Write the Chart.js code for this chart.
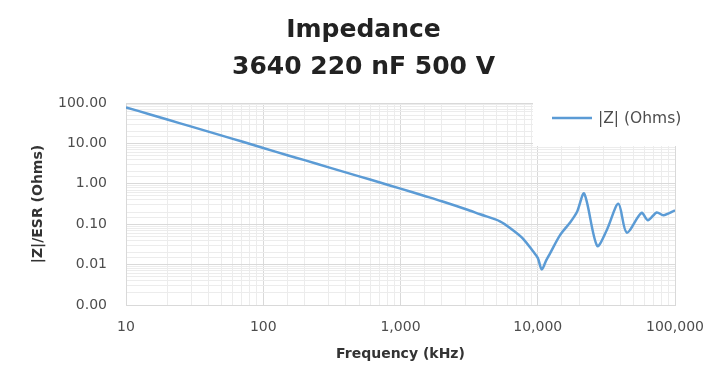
<!DOCTYPE html>
<html>
<head>
<meta charset="utf-8">
<script src="https://cdn.jsdelivr.net/npm/chart.js@4/dist/chart.umd.min.js"></script>
<style>
  html, body { margin: 0; padding: 0; background: #ffffff; }
  #wrap { width: 727px; height: 380px; }
</style>
</head>
<body>
<div id="wrap"><canvas id="c" width="727" height="380"></canvas></div>
<script>
// Frequency (kHz)
const frequencies = [10, 15, 20, 30, 50, 70, 100, 150, 200, 300, 500, 700, 1000, 1500, 2000, 3000, 3800, 5300, 6600, 7800, 9300, 10000, 10700, 11500, 12300, 14500, 17200, 19300, 21800, 27100, 31800, 38700, 44500, 57000, 63500, 73600, 82300, 100000];
// |Z| (Ohms)
const impedance = [78, 52, 39, 26, 15.6, 11.1, 7.7, 5.1, 3.85, 2.55, 1.53, 1.09, 0.76, 0.50, 0.37, 0.235, 0.176, 0.118, 0.071, 0.044, 0.0207, 0.0147, 0.0076, 0.0125, 0.019, 0.053, 0.11, 0.20, 0.57, 0.029, 0.071, 0.32, 0.062, 0.19, 0.126, 0.195, 0.167, 0.22];

const titleLines = ['Impedance', '3640 220 nF 500 V'];
const seriesName = '|Z| (Ohms)';
const xTitle = 'Frequency (kHz)';
const yTitle = '|Z|/ESR (Ohms)';
const xRange = [10, 100000];
const yRange = [0.001, 100];

const points = frequencies.map((f, i) => ({ x: f, y: impedance[i] }));

function isDecade(v) {
  const l = Math.log10(v);
  return Math.abs(l - Math.round(l)) < 1e-9;
}
function gridColor(ctx) {
  if (!ctx.tick) return '#d9d9d9';
  return isDecade(ctx.tick.value) ? '#d9d9d9' : '#ececec';
}

const lineColor = '#5B9BD5';

const legendPlugin = {
  id: 'excelLegend',
  beforeDatasetsDraw(chart) {
    const ctx = chart.ctx;
    ctx.save();
    ctx.fillStyle = '#ffffff';
    ctx.fillRect(533, 100, 144, 46);
    ctx.restore();
  },
  afterDraw(chart) {
    const ctx = chart.ctx;
    ctx.save();
    ctx.strokeStyle = lineColor;
    ctx.lineWidth = 2.5;
    ctx.beginPath();
    ctx.moveTo(552, 118);
    ctx.lineTo(592, 118);
    ctx.stroke();
    ctx.fillStyle = '#4d4d4d';
    ctx.font = '15.5px "DejaVu Sans"';
    ctx.textBaseline = 'middle';
    ctx.textAlign = 'left';
    ctx.fillText(chart.data.datasets[0].label, 598, 119);
    ctx.restore();
  }
};

new Chart(document.getElementById('c'), {
  type: 'line',
  data: {
    datasets: [{
      label: seriesName,
      data: points,
      borderColor: lineColor,
      backgroundColor: lineColor,
      borderWidth: 2.5,
      pointRadius: 0,
      tension: 0.3,
      fill: false
    }]
  },
  options: {
    responsive: false,
    animation: false,
    devicePixelRatio: 1,
    layout: { padding: { left: 0, right: 0, top: 0, bottom: 0 } },
    plugins: {
      legend: { display: false },
      tooltip: { enabled: false },
      title: {
        display: true,
        text: titleLines,
        color: '#222222',
        font: { family: '"DejaVu Sans"', size: 25, weight: 'bold', lineHeight: 1.48 },
        padding: { top: 11.5, bottom: 17.5 }
      }
    },
    scales: {
      x: {
        type: 'logarithmic',
        min: xRange[0],
        max: xRange[1],
        afterFit(scale) { scale.height = 75; },
        grid: { color: gridColor, drawTicks: false, lineWidth: 1 },
        border: { color: '#d9d9d9' },
        ticks: {
          autoSkip: false,
          maxRotation: 0,
          padding: 14,
          color: '#4d4d4d',
          font: { family: '"DejaVu Sans"', size: 14 },
          callback(v) { return isDecade(v) ? Math.round(v).toLocaleString('en-US') : ''; }
        },
        title: {
          display: true,
          text: xTitle,
          color: '#333333',
          font: { family: '"DejaVu Sans"', size: 14, weight: 'bold' },
          padding: { top: 0, bottom: 17.5 }
        }
      },
      y: {
        type: 'logarithmic',
        min: yRange[0],
        max: yRange[1],
        afterFit(scale) { scale.width = 126; },
        grid: { color: gridColor, drawTicks: false, lineWidth: 1 },
        border: { color: '#d9d9d9' },
        ticks: {
          autoSkip: false,
          padding: 19,
          color: '#4d4d4d',
          font: { family: '"DejaVu Sans"', size: 14 },
          callback(v) { return isDecade(v) ? Number(v).toFixed(2) : ''; }
        },
        title: {
          display: true,
          text: yTitle,
          color: '#333333',
          font: { family: '"DejaVu Sans"', size: 14, weight: 'bold' },
          padding: { top: 30, bottom: 0 }
        }
      },
      spacer: {
        type: 'linear',
        position: 'right',
        display: true,
        afterFit(scale) { scale.width = 52; },
        grid: { display: false, drawTicks: false },
        border: { display: false },
        ticks: { display: false }
      }
    }
  },
  plugins: [legendPlugin]
});
</script>
</body>
</html>
